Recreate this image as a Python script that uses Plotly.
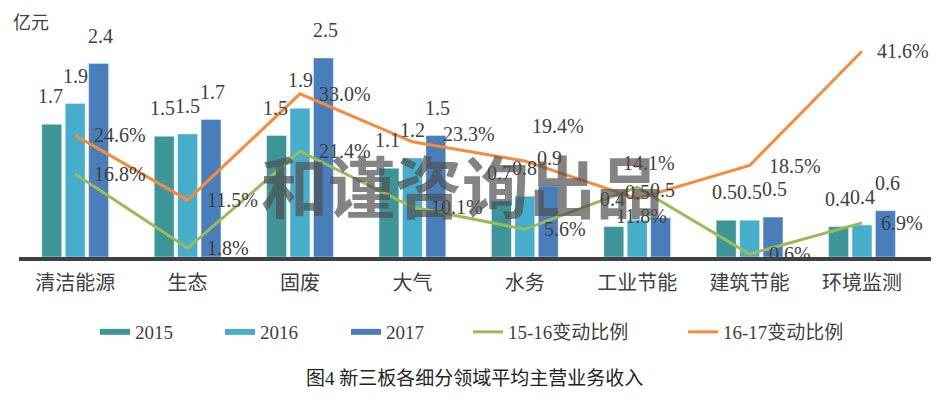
import plotly.graph_objects as go

# === data ===
categories = ["清洁能源", "生态", "固废", "大气", "水务", "工业节能", "建筑节能", "环境监测"]
rev_2015 = [1.66, 1.51, 1.52, 1.11, 0.70, 0.38, 0.46, 0.38]
rev_2016 = [1.92, 1.54, 1.86, 1.24, 0.76, 0.46, 0.46, 0.40]
rev_2017 = [2.42, 1.72, 2.49, 1.52, 0.89, 0.49, 0.50, 0.58]
chg_15_16 = [0.168, 0.018, 0.214, 0.101, 0.056, 0.141, 0.006, 0.069]
chg_16_17 = [0.246, 0.115, 0.330, 0.233, 0.194, 0.118, 0.185, 0.416]

# === style ===
C15, C16, C17 = "#3D9597", "#46AECB", "#4A7EBB"
CG, CO = "#9BBB59", "#F58B3B"
TXT = "#404040"
FONT = "Liberation Serif, Noto Sans CJK SC"

# the page body adds an 8px margin, so the figure is a bit smaller than the window
OFF = 8
W, H = 945 - OFF, 402 - OFF
# plot area (screen pixels 19..931 x 30..257)
L, R, T, B = 19 - OFF, 14, 30 - OFF, 145
PW, PH = W - L - R, H - T - B


def px_x(sx):
    return (sx - OFF - L) / PW


def px_y(sy):
    return (H - B - (sy - OFF)) / PH


fig = go.Figure()

bars = [("2015", rev_2015, C15), ("2016", rev_2016, C16), ("2017", rev_2017, C17)]
for name, vals, col in bars:
    fig.add_trace(go.Bar(x=categories, y=vals, name=name, marker_color=col,
                         showlegend=False, yaxis="y"))

lines = [("15-16变动比例", chg_15_16, CG), ("16-17变动比例", chg_16_17, CO)]
for name, vals, col in lines:
    fig.add_trace(go.Scatter(x=categories, y=vals, name=name, mode="lines",
                             line=dict(color=col, width=3), showlegend=False,
                             yaxis="y2"))

# legend entries, each in its own legend so they can be spaced like the original
legend_items = [("2015", C15, 6, 100), ("2016", C16, 6, 225), ("2017", C17, 6, 351),
                ("15-16变动比例", CG, 3, 473), ("16-17变动比例", CO, 3, 688)]
layout_legends = {}
for i, (name, col, w, xpos) in enumerate(legend_items):
    key = "legend" if i == 0 else f"legend{i + 1}"
    fig.add_trace(go.Scatter(x=[None], y=[None], mode="lines", name=name,
                             line=dict(color=col, width=w), legend=key))
    layout_legends[key] = dict(x=(xpos - 5 - OFF) / W, xref="container", xanchor="left",
                               y=1 - (332 - OFF) / H, yref="container", yanchor="middle",
                               orientation="h",
                               font=dict(family=FONT, size=19, color=TXT),
                               bgcolor="rgba(0,0,0,0)")

annotations = []
# bar value labels
offsets = [-25, 0, 25]
for (name, vals, col), dx in zip(bars, offsets):
    for c, v in zip(categories, vals):
        annotations.append(dict(x=c, y=v, xref="x", yref="y", text=f"{v:.1f}",
                                showarrow=False, xshift=dx, yshift=28,
                                font=dict(family=FONT, size=20, color=TXT)))

# percentage labels, a few nudged like the original
nudge = {
    ("16-17变动比例", "大气"): (29, 8),
    ("16-17变动比例", "水务"): (5, 35),
    ("15-16变动比例", "工业节能"): (-16, 24),
    ("16-17变动比例", "工业节能"): (-23, -17),
    ("16-17变动比例", "环境监测"): (13, 0),
}
for name, vals, col in lines:
    for c, v in zip(categories, vals):
        dx, dy = nudge.get((name, c), (17, 0))
        annotations.append(dict(x=c, y=v, xref="x", yref="y2", text=f"{v * 100:.1f}%",
                                showarrow=False, xanchor="left", xshift=dx, yshift=dy,
                                font=dict(family=FONT, size=20, color=TXT)))

annotations += [
    dict(x=px_x(11), y=px_y(23), xref="paper", yref="paper", text="亿元",
         showarrow=False, xanchor="left", yanchor="middle",
         font=dict(family=FONT, size=18, color=TXT)),
    dict(x=px_x(474), y=px_y(378), xref="paper", yref="paper",
         text="图4 新三板各细分领域平均主营业务收入", showarrow=False, yanchor="middle",
         font=dict(family=FONT, size=19, color="#222222")),
    dict(x=px_x(462), y=px_y(183), xref="paper", yref="paper", text="<b>和谨咨询出品</b>",
         showarrow=False, yanchor="middle",
         font=dict(family="Noto Sans CJK SC", size=67, color="rgba(80,80,80,0.7)")),
]

fig.update_layout(
    width=W, height=H,
    margin=dict(l=L, r=R, t=T, b=B, autoexpand=False),
    paper_bgcolor="white", plot_bgcolor="white",
    barmode="group", bargap=0.375, bargroupgap=0.15,
    font=dict(family=FONT, size=17, color=TXT),
    xaxis=dict(showline=True, linewidth=4, linecolor="#404040", ticks="",
               tickfont=dict(family=FONT, size=20, color=TXT), showgrid=False,
               ticklabelstandoff=5, automargin=False),
    yaxis=dict(range=[0, 2.84], visible=False, showgrid=False),
    yaxis2=dict(range=[0, 0.459], overlaying="y", side="right", visible=False,
                showgrid=False),
    annotations=annotations,
    **layout_legends,
)

fig.write_html("out.html")
